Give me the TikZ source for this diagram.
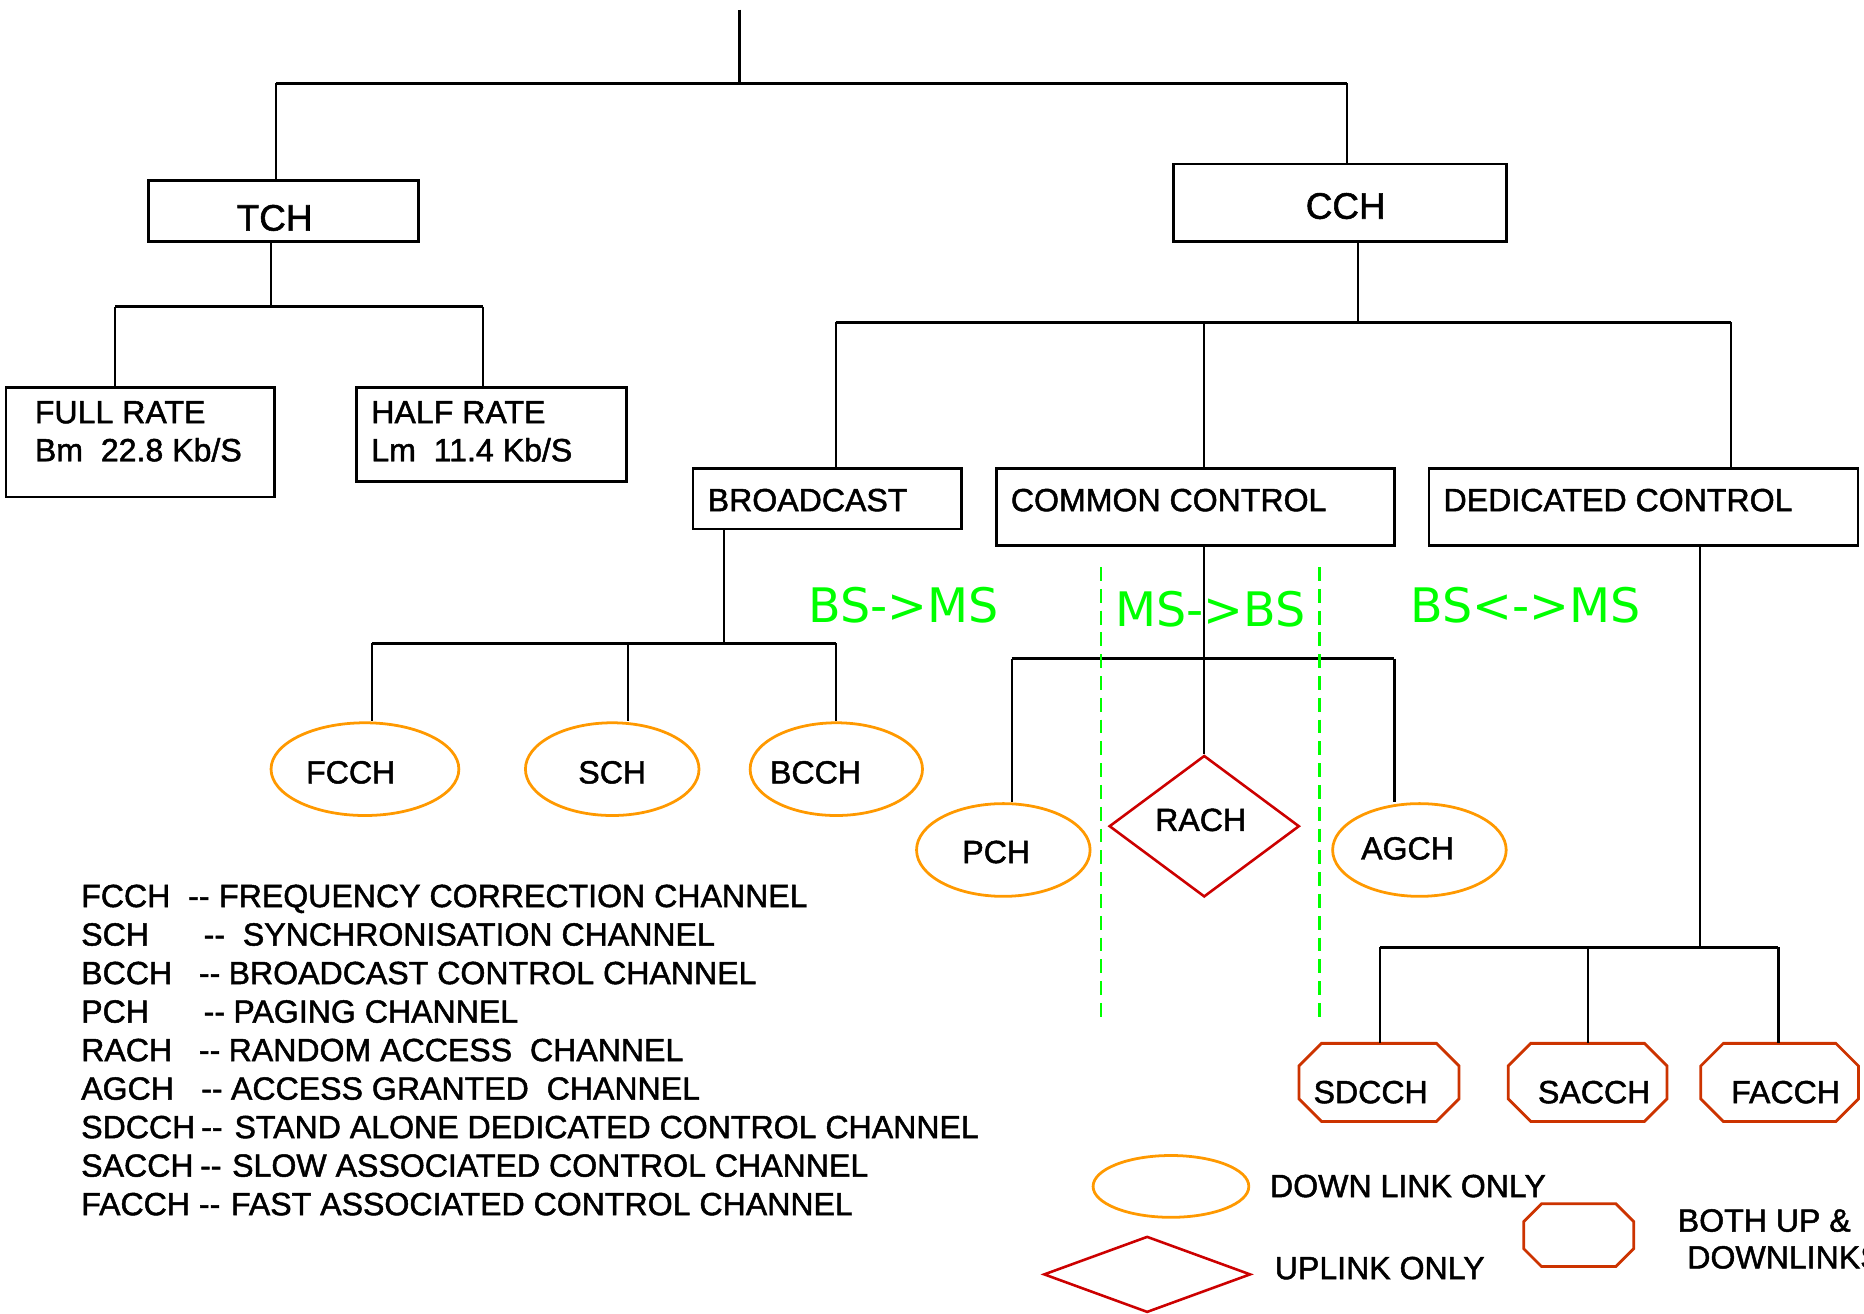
\documentclass[tikz,border=0pt]{standalone}
\usepackage{fontspec}
\setmainfont{Liberation Sans}[FakeBold=1.5]
\newfontfamily\dirfont{DejaVu Sans}
\usetikzlibrary{shapes.geometric}

\definecolor{dlorange}{RGB}{255,153,0}
\definecolor{ulred}{RGB}{204,0,0}
\definecolor{bothred}{RGB}{204,51,0}
\definecolor{dirgreen}{RGB}{0,255,0}

% one drawing unit = 0.6pt
\newlength\pxu \setlength\pxu{0.6pt}
\newcommand\txtsz{\fontsize{16.2pt}{19pt}\selectfont}
\newcommand\bigsz{\fontsize{18.6pt}{22pt}\selectfont}
\newcommand\dirsz{\fontsize{24pt}{28pt}\selectfont}
% legend row: abbreviation, dashes starting at x=#1, description starting at x=#2
\newcommand\lrow[4]{\makebox[\dimexpr#1\pxu-68\pxu\relax][l]{#3}\makebox[\dimexpr#2\pxu-#1\pxu\relax][l]{-{}-}#4}
% octagon outline drawn round a rectangular node, corners cut by #2
\newcommand\octo[2]{\draw[draw=bothred, line width=1.4pt]
  ([xshift=#2]#1.north west) -- ([xshift=-#2]#1.north east)
  -- ([yshift=-#2]#1.north east) -- ([yshift=#2]#1.south east)
  -- ([xshift=-#2]#1.south east) -- ([xshift=#2]#1.south west)
  -- ([yshift=#2]#1.south west) -- ([yshift=-#2]#1.north west) -- cycle;}

\begin{document}
\begin{tikzpicture}[x=0.6pt,y=-0.6pt,
  wire/.style={line width=1.1pt},
  bar/.style={line width=1.5pt},
  chbox/.style={draw, rectangle, line width=1.4pt, inner sep=0pt,
    minimum width=#1*0.6pt},
  ht/.style={minimum height=#1*0.6pt},
  dlink/.style={draw=dlorange, ellipse, line width=1.4pt, inner sep=0pt},
  ulink/.style={draw=ulred, diamond, line width=1.3pt, inner sep=0pt},
  both/.style={rectangle, inner sep=0pt},
  wd/.style={minimum width=#1*0.6pt},
  txt/.style={inner sep=0pt, font=\txtsz, anchor=base west},
  ctxt/.style={inner sep=0pt, font=\txtsz, anchor=base},
  bigtxt/.style={inner sep=0pt, font=\bigsz, anchor=base},
  dirtxt/.style={inner sep=0pt, font=\dirfont\dirsz, text=dirgreen, anchor=base},
  divider/.style={draw=dirgreen, line width=1.3pt, dash pattern=on 7pt off 4pt}
]
\useasboundingbox (0,0) rectangle (1568,1104.5);

% ---------- first level ----------
\node[chbox=227, ht=51] (tch) at (238.5,177.5) {};
\node[bigtxt] (tch-t) at (231,194) {TCH};
\node[chbox=280, ht=65] (cch) at (1127,170.5) {};
\node[bigtxt] (cch-t) at (1132,184) {CCH};

\coordinate (top) at (622,8);
\coordinate (r0) at (622,70);
\coordinate (b0l) at (232,70);
\coordinate (b0r) at (1133,70);
\draw[wire] (top) -- (r0);
\draw[bar] (b0l) -- (b0r);
\draw[wire] (b0l) -- (b0l |- tch.north);
\draw[wire] (b0r) -- (b0r |- cch.north);

% ---------- traffic channels ----------
\node[chbox=226, ht=92] (full) at (118,372) {};
\node[txt] (full-t1) at (29,356) {FULL RATE};
\node[txt] (full-t2) at (29,388) {Bm\ \ 22.8 Kb/S};
\node[chbox=227, ht=79] (half) at (413.5,365.5) {};
\node[txt] (half-t1) at (312,356) {HALF RATE};
\node[txt] (half-t2) at (312,388) {Lm\ \ 11.4 Kb/S};

\coordinate (t1) at (228,258);
\coordinate (b1l) at (97,258);
\coordinate (b1r) at (406,258);
\draw[wire] (t1 |- tch.south) -- (t1);
\draw[bar] (b1l) -- (b1r);
\draw[wire] (b1l) -- (b1l |- full.north);
\draw[wire] (b1r) -- (b1r |- half.north);

% ---------- control channel groups ----------
\node[chbox=226, ht=51] (bc) at (696,419.5) {};
\node[txt] (bc-t) at (595,430) {BROADCAST};
\node[chbox=335, ht=65] (cc) at (1005.5,426.5) {};
\node[txt] (cc-t) at (850,430) {COMMON CONTROL};
\node[chbox=361, ht=65] (dc) at (1382.5,426.5) {};
\node[txt] (dc-t) at (1214,430) {DEDICATED CONTROL};

\coordinate (c1) at (1142,271);
\coordinate (b2l) at (703,271);
\coordinate (b2m) at (1013,271);
\coordinate (b2r) at (1456,271);
\draw[wire] (c1 |- cch.south) -- (c1);
\draw[bar] (b2l) -- (b2r);
\draw[wire] (b2l) -- (b2l |- bc.north);
\draw[wire] (b2m) -- (b2m |- cc.north);
\draw[wire] (b2r) -- (b2r |- dc.north);

% ---------- broadcast channels ----------
\node[dlink, wd=158, ht=78] (fcch) at (307,647) {};
\node[ctxt] (fcch-t) at (295,659) {FCCH};
\node[dlink, wd=146, ht=78] (sch) at (515,647) {};
\node[ctxt] (sch-t) at (515,659) {SCH};
\node[dlink, wd=145, ht=78] (bcch) at (703.5,647) {};
\node[ctxt] (bcch-t) at (686,659) {BCCH};

\coordinate (d1) at (609,541);
\coordinate (b3l) at (313,541);
\coordinate (b3m) at (528,541);
\coordinate (b3r) at (703,541);
\draw[wire] (d1 |- bc.south) -- (d1);
\draw[bar] (b3l) -- (b3r);
\draw[wire] (b3l) -- (b3l |- fcch.north);
\draw[wire] (b3m) -- (b3m |- sch.north);
\draw[wire] (b3r) -- (b3r |- bcch.north);

% ---------- common control channels ----------
\node[dlink, wd=146, ht=78] (pch) at (844,715) {};
\node[ctxt] (pch-t) at (838,726) {PCH};
\node[ulink, wd=160, ht=119] (rach) at (1013,695) {};
\node[ctxt] (rach-t) at (1010,699) {RACH};
\node[dlink, wd=146, ht=78] (agch) at (1194,715) {};
\node[ctxt] (agch-t) at (1184,723) {AGCH};

\coordinate (b4l) at (851,554);
\coordinate (b4r) at (1173,554);
\draw[wire] (rach.north |- cc.south) -- (rach.north);
\draw[bar] (b4l) -- (b4r);
\draw[wire] (b4l) -- (b4l |- pch.north);
\draw[wire] (b4r) -- (b4r |- agch.north);

% ---------- dedicated control channels ----------
\node[both, wd=134, ht=65] (sdcch) at (1160,910.5) {};
\octo{sdcch}{11.4pt}
\node[ctxt] (sdcch-t) at (1153,928) {SDCCH};
\node[both, wd=133, ht=65] (sacch) at (1335.5,910.5) {};
\octo{sacch}{11.4pt}
\node[ctxt] (sacch-t) at (1341,928) {SACCH};
\node[both, wd=132, ht=65] (facch) at (1497,910.5) {};
\octo{facch}{11.4pt}
\node[ctxt] (facch-t) at (1502,928) {FACCH};

\coordinate (e1) at (1430,797);
\coordinate (b5l) at (1161,797);
\coordinate (b5m) at (1336,797);
\coordinate (b5r) at (1496,797);
\draw[wire] (e1 |- dc.south) -- (e1);
\draw[bar] (b5l) -- (b5r);
\draw[wire] (b5l) -- (b5l |- sdcch.north);
\draw[wire] (b5m) -- (b5m |- sacch.north);
\draw[wire] (b5r) -- (b5r |- facch.north);

% ---------- link directions ----------
\coordinate (g1a) at (926,477);
\coordinate (g1b) at (926,860);
\coordinate (g2a) at (1110,477);
\coordinate (g2b) at (1110,860);
\draw[divider] (g1a) -- (g1b);
\draw[divider] (g2a) -- (g2b);
\node[dirtxt] (dir1) at (760,524) {BS->MS};
\node[dirtxt] (dir2) at (1018,527) {MS->BS};
\node[dirtxt] (dir3) at (1283,524) {BS<->MS};

% ---------- abbreviations ----------
\node[txt] (ab1) at (68,763) {\lrow{158}{184}{FCCH}{FREQUENCY CORRECTION CHANNEL}};
\node[txt] (ab2) at (68,795.4) {\lrow{171}{204}{SCH}{SYNCHRONISATION CHANNEL}};
\node[txt] (ab3) at (68,827.8) {\lrow{167}{192}{BCCH}{BROADCAST CONTROL CHANNEL}};
\node[txt] (ab4) at (68,860.2) {\lrow{171}{196}{PCH}{PAGING CHANNEL}};
\node[txt] (ab5) at (68,892.6) {\lrow{167}{192}{RACH}{RANDOM ACCESS\ \ CHANNEL}};
\node[txt] (ab6) at (68,925) {\lrow{169}{194}{AGCH}{ACCESS GRANTED\ \ CHANNEL}};
\node[txt] (ab7) at (68,957.4) {\lrow{169}{197}{SDCCH}{STAND ALONE DEDICATED CONTROL CHANNEL}};
\node[txt] (ab8) at (68,989.8) {\lrow{168}{195}{SACCH}{SLOW ASSOCIATED CONTROL CHANNEL}};
\node[txt] (ab9) at (68,1022.2) {\lrow{167}{194}{FACCH}{FAST ASSOCIATED CONTROL CHANNEL}};

% ---------- shape key ----------
\node[dlink, wd=131, ht=52] (key-dl) at (985,998) {};
\node[txt] (key-dl-t) at (1068,1007) {DOWN LINK ONLY};
\node[ulink, wd=174, ht=64] (key-ul) at (965,1072) {};
\node[txt] (key-ul-t) at (1072,1076) {UPLINK ONLY};
\node[both, wd=92, ht=52] (key-both) at (1328,1039) {};
\octo{key-both}{9pt}
\node[txt] (key-both-t1) at (1411,1036) {BOTH UP \&};
\node[txt] (key-both-t2) at (1419,1067) {DOWNLINKS};
\end{tikzpicture}
\end{document}
